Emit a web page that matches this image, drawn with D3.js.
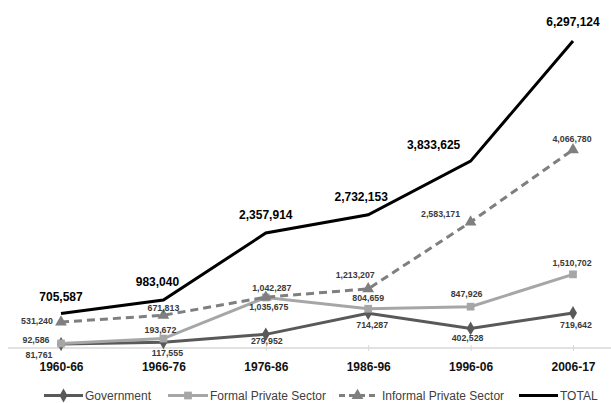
<!DOCTYPE html>
<html>
<head>
<meta charset="utf-8">
<script src="https://cdn.jsdelivr.net/npm/d3@7"></script>
<style>
  body { margin: 0; background: #fff; }
  svg { display: block; font-family: "Liberation Sans", Arial, sans-serif; }
</style>
</head>
<body>
<svg></svg>
<script>
var width = 611, height = 403;

// data
var periods = ['1960-66', '1966-76', '1976-86', '1986-96', '1996-06', '2006-17'];
var government = [81761, 117555, 279952, 714287, 402528, 719642];
var formalPrivate = [92586, 193672, 1035675, 804659, 847926, 1510702];
var informalPrivate = [531240, 671813, 1042287, 1213207, 2583171, 4066780];
var total = [705587, 983040, 2357914, 2732153, 3833625, 6297124];
var seriesNames = ['Government', 'Formal Private Sector', 'Informal Private Sector', 'TOTAL'];

// label nudges (px) so they sit where the original put them
var govLabelOff = [[-22, 14], [4, 14], [1, 10], [4, 15], [-3, 13], [3, 15]];
var formalLabelOff = [[-25, 0], [-3, -6], [3, 12], [0, -8], [-4, -10], [-1, -8]];
var informalLabelOff = [[-24, 2], [0, -4], [6, -6], [-13, -11], [-30, -5], [-1, -8]];
var totalLabelOff = [[0, -13], [-6, -14], [0, -14], [-7, -14], [-37, -12], [0, -15]];

var svg = d3.select('svg')
    .attr('width', width)
    .attr('height', height);

var x = d3.scalePoint()
    .domain(periods)
    .range([61, 573]);

var y = d3.scaleLinear()
    .domain([0, 6297124])
    .range([348, 41]);

var fmt = d3.format(',');

// axis
var axis = svg.append('g')
    .attr('transform', 'translate(0,' + y(0) + ')')
    .call(d3.axisBottom(x).tickSize(3).tickPadding(14));

axis.select('.domain')
    .attr('d', 'M8,0H611')
    .attr('stroke', '#d9d9d9')
    .attr('stroke-width', 1.5);

axis.selectAll('.tick line')
    .attr('y1', -3)
    .attr('y2', 3)
    .attr('stroke', '#d9d9d9');

axis.selectAll('.tick text')
    .attr('font-size', 12)
    .attr('font-weight', 'bold')
    .attr('fill', '#111')
    .attr('dy', '0.5em');

var series = [
    {name: seriesNames[0], values: government, color: '#595959', marker: d3.symbolDiamond, size: 55, dash: null, off: govLabelOff},
    {name: seriesNames[1], values: formalPrivate, color: '#a6a6a6', marker: d3.symbolSquare, size: 60, dash: null, off: formalLabelOff},
    {name: seriesNames[2], values: informalPrivate, color: '#7f7f7f', marker: d3.symbolTriangle, size: 60, dash: '8,5', off: informalLabelOff},
    {name: seriesNames[3], values: total, color: '#000', marker: null, size: 0, dash: null, off: totalLabelOff}
];

var line = d3.line()
    .x(function(d, i) { return x(periods[i]); })
    .y(function(d) { return y(d); });

series.forEach(function(s) {
    svg.append('path')
        .datum(s.values)
        .attr('d', line)
        .attr('fill', 'none')
        .attr('stroke', s.color)
        .attr('stroke-width', 3)
        .attr('stroke-dasharray', s.dash);

    if (s.marker) {
        svg.selectAll(null)
            .data(s.values)
            .enter().append('path')
            .attr('d', d3.symbol().type(s.marker).size(s.size))
            .attr('transform', function(d, i) { return 'translate(' + x(periods[i]) + ',' + y(d) + ')'; })
            .attr('fill', s.color);
    }
});

// data labels
series.forEach(function(s) {
    var big = s.name === 'TOTAL';
    svg.selectAll(null)
        .data(s.values)
        .enter().append('text')
        .attr('x', function(d, i) { return x(periods[i]) + s.off[i][0]; })
        .attr('y', function(d, i) { return y(d) + s.off[i][1]; })
        .attr('text-anchor', 'middle')
        .attr('font-size', big ? 12 : 8.8)
        .attr('font-weight', 'bold')
        .attr('fill', big ? '#000' : '#3a3a3a')
        .text(function(d) { return fmt(d); });
});

// legend
var legendX = [44, 168, 339, 519];
var legendLen = [39, 40, 37, 39];
var legend = svg.append('g').attr('transform', 'translate(0,395.5)');

series.forEach(function(s, i) {
    var g = legend.append('g').attr('transform', 'translate(' + legendX[i] + ',0)');
    g.append('line')
        .attr('x1', 0).attr('x2', legendLen[i])
        .attr('stroke', s.color)
        .attr('stroke-width', 3)
        .attr('stroke-dasharray', s.dash ? '6,4' : null);
    if (s.marker) {
        g.append('path')
            .attr('d', d3.symbol().type(s.marker).size(s.size))
            .attr('transform', 'translate(' + legendLen[i] / 2 + ',0)')
            .attr('fill', s.color);
    }
    g.append('text')
        .attr('x', legendLen[i] + (i === 2 ? 6 : 2))
        .attr('y', 4)
        .attr('font-size', 12)
        .attr('fill', '#404040')
        .text(s.name);
});
</script>
</body>
</html>
